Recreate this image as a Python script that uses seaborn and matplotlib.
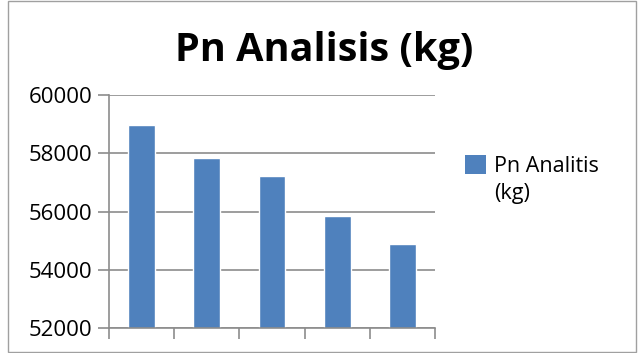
import matplotlib
matplotlib.use("Agg")
import matplotlib.pyplot as plt
import seaborn as sns
import pandas as pd
from matplotlib.patches import Patch, Rectangle
from matplotlib.legend_handler import HandlerPatch

categories = ["1", "2", "3", "4", "5"]
values = [58970, 57840, 57220, 55840, 54880]
series_name = "Pn Analitis\n(kg)"
title = "Pn Analisis (kg)"
yticks = [52000, 54000, 56000, 58000, 60000]

sns.set_theme(style="white")
plt.rcParams['font.family'] = ['Open Sans', 'DejaVu Sans']
plt.rcParams['text.color'] = 'black'

df = pd.DataFrame({"cat": categories, "val": values})

fig = plt.figure(figsize=(6.38, 3.53), dpi=100)
ax = fig.add_axes([109/638, 1-328/353, (435-109)/638, (328-95)/353])
sns.barplot(data=df, x="cat", y="val", color="#4F81BD", saturation=1, width=0.41, ax=ax)
ax.set_ylim(52000, 60000)
ax.set_yticks(yticks)
ax.set_yticklabels([str(t) for t in yticks], fontsize=16, color="black")
ax.set_xlim(-0.5, 4.5)
ax.set_xticks([-0.5, 0.5, 1.5, 2.5, 3.5, 4.5])
ax.set_xticklabels([])
ax.set_xlabel("")
ax.set_ylabel("")
ax.grid(axis="y", color="#8c8c8c", linewidth=1.2)
ax.set_axisbelow(True)
for s in ["top", "right"]:
    ax.spines[s].set_visible(False)
for s in ["left", "bottom"]:
    ax.spines[s].set_color("#8c8c8c")
    ax.spines[s].set_linewidth(1.2)
ax.tick_params(axis="both", direction="out", length=8, width=1.2, color="#8c8c8c", left=True, bottom=True)
ax.tick_params(axis="y", pad=4)

fig.text(0.508, 1-50/353, title, fontsize=28.5, fontweight="bold", ha="center", va="center", color="black")


class TopHandler(HandlerPatch):
    def create_artists(self, legend, orig_handle, xdescent, ydescent, width, height, fontsize, trans):
        off = fontsize * 0.75
        r = Rectangle((-xdescent, -ydescent + off), width, height,
                      facecolor=orig_handle.get_facecolor(), edgecolor="none", transform=trans)
        return [r]


leg_font = 15.5
fig.legend(handles=[Patch(facecolor="#4F81BD", label=series_name)], loc="upper left",
           bbox_to_anchor=(446/638, 1-137/353), frameon=False,
           handlelength=0.95, handleheight=0.95, handletextpad=0.4, labelcolor="black",
           prop={"size": leg_font}, handler_map={Patch: TopHandler()})
for t in fig.legends[0].get_texts():
    t.set_linespacing(1.35)

fig.patches.append(plt.Rectangle((0.012, 0.003), 0.985, 0.994, transform=fig.transFigure,
                                 fill=False, edgecolor="#a0a0a0", linewidth=1))
fig.savefig("out.png", dpi=100)
